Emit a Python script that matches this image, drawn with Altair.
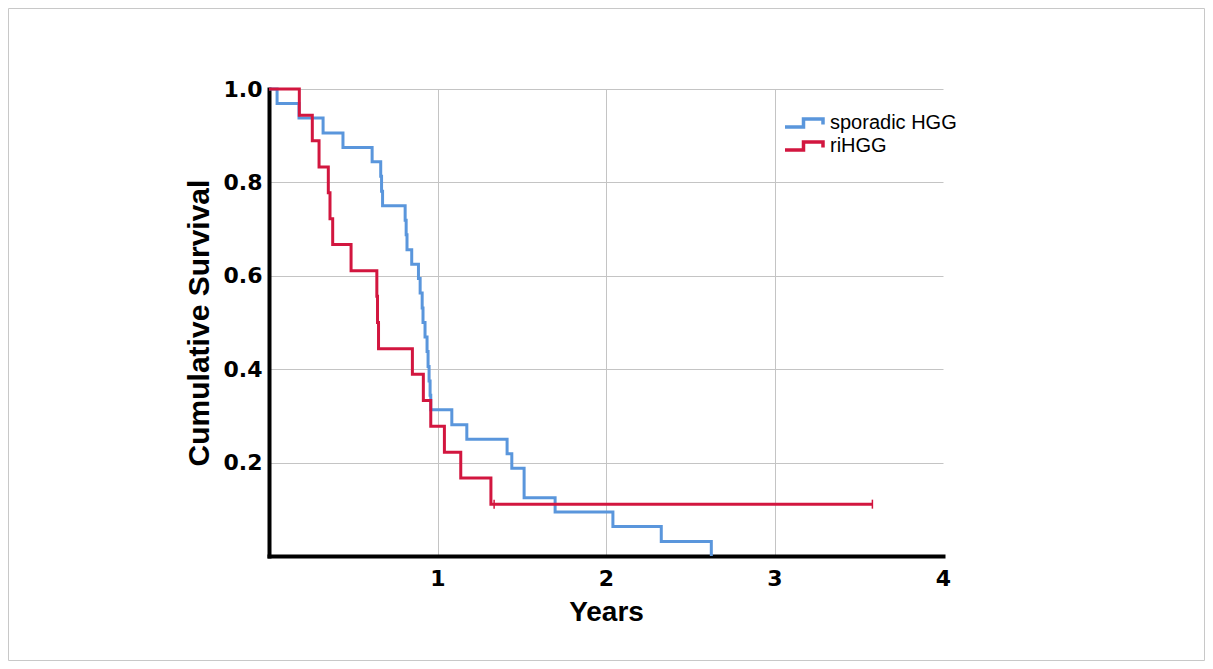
import altair as alt
import pandas as pd

# --- data ---
blue_name = "sporadic HGG"
red_name = "riHGG"

blue_times = [0.0, 0.048, 0.178, 0.321, 0.439, 0.612, 0.663, 0.668, 0.674, 0.808, 0.814,
              0.819, 0.847, 0.887, 0.897, 0.909, 0.914, 0.926, 0.938, 0.944, 0.950, 0.956,
              0.960, 1.085, 1.174, 1.413, 1.441, 1.514, 1.698, 2.041, 2.328, 2.625]
blue_surv = [1.0, 0.969, 0.938, 0.906, 0.875, 0.844, 0.813, 0.781, 0.750, 0.719, 0.688,
             0.656, 0.625, 0.594, 0.563, 0.531, 0.500, 0.469, 0.438, 0.406, 0.375, 0.344,
             0.313, 0.281, 0.250, 0.219, 0.188, 0.125, 0.094, 0.063, 0.031, 0.0]

red_times = [0.0, 0.180, 0.257, 0.297, 0.352, 0.362, 0.378, 0.487, 0.640, 0.644, 0.650,
             0.851, 0.916, 0.960, 1.041, 1.138, 1.317, 3.581]
red_surv = [1.0, 0.944, 0.889, 0.833, 0.778, 0.722, 0.667, 0.611, 0.556, 0.500, 0.444,
            0.389, 0.333, 0.278, 0.222, 0.167, 0.111, 0.111]

red_censor_times = [1.336, 3.581]
red_censor_surv = [0.111, 0.111]

x_ticks = [1, 2, 3, 4]
y_ticks = [0.2, 0.4, 0.6, 0.8, 1.0]

blue_color = "#5A96DC"
red_color = "#D2163F"

blue_df = pd.DataFrame({"t": blue_times, "s": blue_surv, "group": blue_name})
red_df = pd.DataFrame({"t": red_times, "s": red_surv, "group": red_name})
cens_df = pd.DataFrame({"t": red_censor_times, "s": red_censor_surv})

W, H = 674, 467
PAD = {"left": 261, "top": 81, "right": 262, "bottom": 105}

x_scale = alt.Scale(domain=[0, 4], nice=False, zero=False)
y_scale = alt.Scale(domain=[0, 1], nice=False)
color_scale = alt.Scale(domain=[blue_name, red_name], range=[blue_color, red_color])

x_enc = alt.X("t:Q", scale=x_scale,
              axis=alt.Axis(values=x_ticks, format="d", title="Years",
                            titleFontSize=28, labelPadding=12, titlePadding=9,
                            labelFlush=False,
                            gridOpacity={"condition": {"test": "datum.value >= 4", "value": 0},
                                         "value": 1}))
y_enc = alt.Y("s:Q", scale=y_scale,
              axis=alt.Axis(values=y_ticks, format=".1f", title="Cumulative Survival",
                            titleFontSize=30, labelPadding=7, titlePadding=9))

step_symbol = "M-1.9,0.4 L-0.05,0.4 L-0.05,-0.4 L1.9,-0.4 L1.9,0.15"

c_enc = alt.Color("group:N", scale=color_scale,
                  legend=alt.Legend(title=None, symbolType=step_symbol,
                                    symbolFillColor="transparent",
                                    symbolStrokeWidth=3.5, symbolOpacity=1))

blue = alt.Chart(blue_df).mark_line(interpolate="step-after", strokeWidth=3).encode(
    x=x_enc, y=y_enc, color=c_enc)
red = alt.Chart(red_df).mark_line(interpolate="step-after", strokeWidth=3).encode(
    x=x_enc, y=y_enc, color=c_enc)
cens = alt.Chart(cens_df).mark_tick(orient="vertical", size=9, thickness=1.5,
                                    color=red_color, opacity=1).encode(
    x=x_enc, y=y_enc)

border = alt.Chart(pd.DataFrame({"a": [0]})).mark_rect(
    fill="transparent", stroke="#c8c8c8", strokeWidth=1).encode(
    x=alt.value(-PAD["left"] + 0.5), x2=alt.value(W + PAD["right"] - 0.5),
    y=alt.value(-PAD["top"] + 0.5), y2=alt.value(H + PAD["bottom"] - 0.5))

chart = alt.layer(border, blue, red, cens).properties(
    width=W, height=H, padding=PAD,
    autosize=alt.AutoSizeParams(type="none"),
    background="white",
).configure_view(
    strokeOpacity=0
).configure_axis(
    domainColor="black", domainWidth=4, domainCap="square",
    ticks=False,
    grid=True, gridColor="#c4c4c4", gridWidth=1,
    labelFont="DejaVu Sans", labelFontWeight="bold", labelFontSize=22, labelColor="black",
    titleFont="Liberation Sans", titleFontWeight="bold", titleColor="black",
).configure_legend(
    orient="none", legendX=523, legendY=22, padding=0,
    symbolSize=400,
    labelFont="Liberation Sans", labelFontSize=20, labelColor="black",
    labelOffset=14, rowPadding=0,
)

chart.save("out.html", embed_options={"renderer": "svg", "actions": False})
